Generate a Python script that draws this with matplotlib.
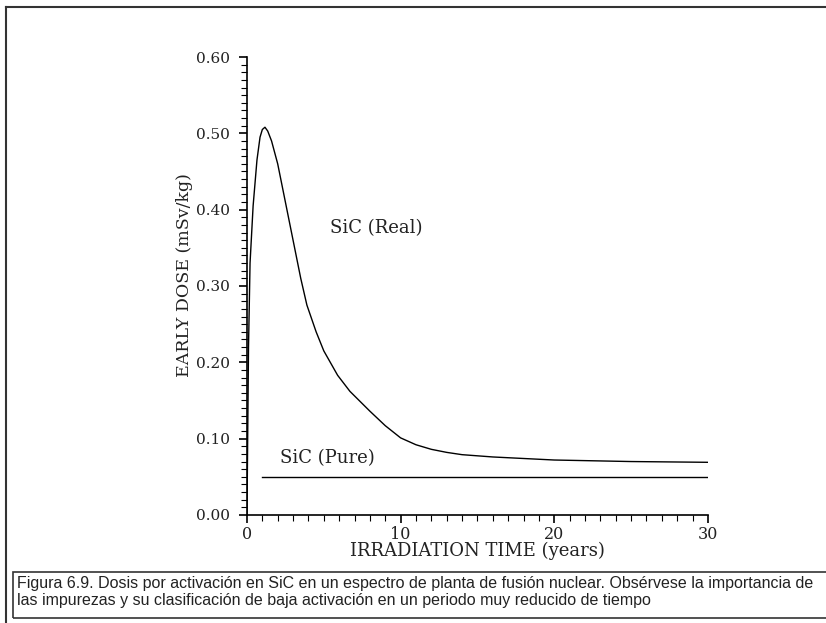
import matplotlib
matplotlib.use("Agg")
import matplotlib.pyplot as plt
from matplotlib.patches import Rectangle
from matplotlib.ticker import MultipleLocator

# data
t_real = [0, 0.1, 0.2, 0.4, 0.65, 0.85, 1.0, 1.17, 1.35, 1.6, 2.0, 2.4, 3.0, 3.5,
          3.9, 4.5, 5.0, 5.9, 6.7, 7.5, 8.0, 9.0, 10, 11, 12, 13, 14, 16, 18, 20,
          25, 30]
dose_real = [0, 0.22, 0.33, 0.405, 0.465, 0.495, 0.505, 0.508, 0.503, 0.49, 0.46,
             0.42, 0.36, 0.31, 0.275, 0.24, 0.215, 0.183, 0.162, 0.146, 0.136,
             0.117, 0.101, 0.092, 0.086, 0.082, 0.079, 0.076, 0.074, 0.072,
             0.070, 0.069]
t_pure = [1.0, 30]
dose_pure = [0.050, 0.050]

xticks = [0, 10, 20, 30]
yticks = [0.0, 0.1, 0.2, 0.3, 0.4, 0.5, 0.6]
caption = ("Figura 6.9. Dosis por activación en SiC en un espectro de planta de fusión nuclear. "
           "Obsérvese la importancia de\nlas impurezas y su clasificación de baja activación "
           "en un periodo muy reducido de tiempo")

serif = "DejaVu Serif"
ink = "#222222"

fig = plt.figure(figsize=(8.26, 6.23), dpi=100)
ax = fig.add_axes([0.299, 0.1734, 0.558, 0.7351])

ax.plot(t_real, dose_real, color="black", lw=1.0)
ax.plot(t_pure, dose_pure, color="black", lw=1.0)

ax.set_xlim(0, 30)
ax.set_ylim(0, 0.60)
ax.set_xticks(xticks)
ax.set_yticks(yticks)
ax.set_yticklabels(["%.2f" % v for v in yticks], family=serif, fontsize=11, color=ink)
ax.set_xticklabels([str(v) for v in xticks], family=serif, fontsize=11.5, color=ink)
ax.xaxis.set_minor_locator(MultipleLocator(1))
ax.yaxis.set_minor_locator(MultipleLocator(0.01))
ax.tick_params(which="major", direction="out", length=6, width=1.2)
ax.tick_params(which="minor", direction="out", length=4, width=0.8)
ax.tick_params(axis="y", pad=6)
ax.tick_params(axis="x", pad=2)
for s in ["top", "right"]:
    ax.spines[s].set_visible(False)
for s in ["left", "bottom"]:
    ax.spines[s].set_linewidth(1.2)

ax.set_ylabel("EARLY DOSE (mSv/kg)", family=serif, fontsize=12.5, color=ink)
ax.yaxis.set_label_coords(-0.118, 0.524)
ax.set_xlabel("IRRADIATION TIME (years)", family=serif, fontsize=13, color=ink, labelpad=-1)

ax.text(5.4, 0.376, "SiC (Real)", family=serif, fontsize=13, color=ink, va="center")
ax.text(2.15, 0.075, "SiC (Pure)", family=serif, fontsize=13, color=ink, va="center")

# outer frame lines and caption box
W, H = 826, 623
fig.add_artist(plt.Line2D([6 / W, 6 / W], [0, 1 - 7 / H], color="#333333", lw=1.5,
                          transform=fig.transFigure))
fig.add_artist(plt.Line2D([6 / W, 1], [1 - 7 / H, 1 - 7 / H], color="#333333", lw=1.5,
                          transform=fig.transFigure))
fig.add_artist(Rectangle((13 / W, 1 - 618 / H), (830 - 13) / W, (618 - 572) / H,
                         fill=False, edgecolor="#333333", lw=1.2, transform=fig.transFigure))
fig.text(17 / W, 1 - 592 / H, caption, family="Liberation Sans", fontsize=11.5,
         va="center", ha="left", linespacing=1.1, color=ink)

fig.savefig("out.png", dpi=100)
